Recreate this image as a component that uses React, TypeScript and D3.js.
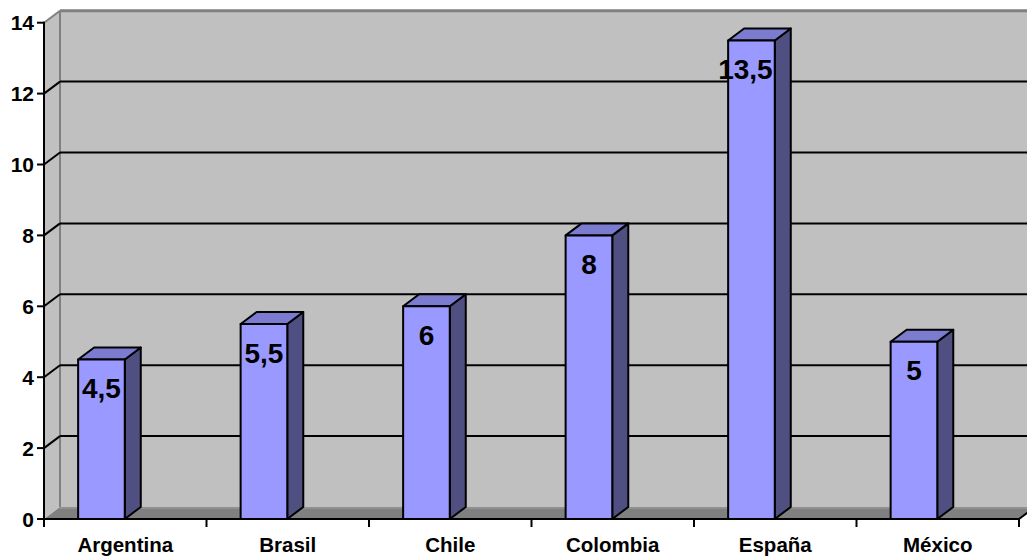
import React from "react";
import * as d3 from "d3";

// Chart data
const categories: string[] = ["Argentina", "Brasil", "Chile", "Colombia", "España", "México"];
const values: number[] = [4.5, 5.5, 6, 8, 13.5, 5];
const valueLabels: string[] = ["4,5", "5,5", "6", "8", "13,5", "5"];
const yTicks: number[] = [0, 2, 4, 6, 8, 10, 12, 14];

const W = 1027;
const H = 558;
const DX = 16; // depth offset of the 3D box
const DY = -12;
const FONT = "Arial, 'Liberation Sans', Helvetica, sans-serif";

export default function App() {
  const x = d3.scaleBand<string>().domain(categories).range([44, 1019]).padding(0);
  const y = d3.scaleLinear().domain([0, 14]).range([519, 22.7]);
  const bw = x.bandwidth();
  const left = 44;
  const right = 1019;
  const y0 = y(0);
  const yTop = y(14);

  const poly = (pts: [number, number][]) => pts.map((p) => p.join(",")).join(" ");

  return (
    <svg
      width={W}
      height={H}
      style={{ position: "absolute", left: 0, top: 0, background: "#ffffff" }}
      fontFamily={FONT}
    >
      {/* back wall */}
      <rect x={left + DX} y={yTop + DY} width={right - left} height={y0 - yTop} fill="#c0c0c0" />
      {/* side wall */}
      <polygon
        points={poly([
          [left, yTop],
          [left + DX, yTop + DY],
          [left + DX, y0 + DY],
          [left, y0],
        ])}
        fill="#c0c0c0"
      />
      {/* floor */}
      <polygon
        points={poly([
          [left, y0],
          [right, y0],
          [right + DX, y0 + DY],
          [left + DX, y0 + DY],
        ])}
        fill="#808080"
      />
      <line x1={left + DX} x2={right + DX} y1={y0 + DY + 1} y2={y0 + DY + 1} stroke="#969696" strokeWidth={1.5} />
      {/* wall edges */}
      <line x1={left + DX} x2={right + DX + 20} y1={yTop + DY} y2={yTop + DY} stroke="#808080" strokeWidth={3} />
      <line x1={left + DX} x2={left + DX} y1={yTop + DY} y2={y0 + DY} stroke="#808080" strokeWidth={2} />
      <line x1={left} x2={left + DX} y1={yTop} y2={yTop + DY} stroke="#808080" strokeWidth={2} />

      {/* gridlines */}
      {yTicks
        .filter((t) => t > 0 && t < 14)
        .map((t) => (
          <g key={"g" + t}>
            <line x1={left + DX} x2={right + DX + 20} y1={y(t) + DY} y2={y(t) + DY} stroke="#000" strokeWidth={2} />
            <line x1={left} x2={left + DX} y1={y(t)} y2={y(t) + DY} stroke="#000" strokeWidth={2} />
          </g>
        ))}

      {/* bars */}
      {categories.map((c, i) => {
        const x0 = (x(c) as number) + bw * 0.21;
        const x1 = x0 + bw * 0.287;
        const top = y(values[i]);
        return (
          <g key={c} stroke="#000" strokeWidth={2} strokeLinejoin="round">
            <polygon
              points={poly([
                [x1, top],
                [x1 + DX, top + DY],
                [x1 + DX, y0 + DY],
                [x1, y0],
              ])}
              fill="#4f4f82"
            />
            <polygon
              points={poly([
                [x0, top],
                [x0 + DX, top + DY],
                [x1 + DX, top + DY],
                [x1, top],
              ])}
              fill="#7b7bd0"
            />
            <rect x={x0} y={top} width={x1 - x0} height={y0 - top} fill="#9999ff" />
          </g>
        );
      })}

      {/* value labels */}
      {categories.map((c, i) => {
        const x0 = (x(c) as number) + bw * 0.21;
        const x1 = x0 + bw * 0.287;
        return (
          <text
            key={"v" + c}
            x={(x0 + x1) / 2 - (valueLabels[i].length > 3 ? 6 : 0)}
            y={y(values[i]) + 29}
            textAnchor="middle"
            dominantBaseline="central"
            fontSize={28}
            fontWeight="bold"
            fill="#000"
          >
            {valueLabels[i]}
          </text>
        );
      })}

      {/* y axis */}
      <line x1={left} x2={left} y1={yTop - 1} y2={y0 + 8} stroke="#000" strokeWidth={2} />
      {yTicks.map((t) => (
        <g key={"t" + t}>
          <line x1={left - 7} x2={left} y1={y(t)} y2={y(t)} stroke="#000" strokeWidth={2} />
          <text
            x={34}
            y={y(t)}
            textAnchor="end"
            dominantBaseline="central"
            fontSize={21}
            fontWeight="bold"
            fill="#000"
          >
            {t}
          </text>
        </g>
      ))}

      {/* x axis */}
      <line x1={left - 7} x2={right} y1={y0} y2={y0} stroke="#000" strokeWidth={2} />
      <line x1={right} x2={right + DX} y1={y0} y2={y0 + DY} stroke="#000" strokeWidth={2} />
      {[...categories.map((c) => x(c) as number), right].map((b, i) => (
        <line key={"xt" + i} x1={b} x2={b} y1={y0} y2={y0 + 8} stroke="#000" strokeWidth={2} />
      ))}
      {categories.map((c) => (
        <text
          key={"c" + c}
          x={(x(c) as number) + bw / 2}
          y={552}
          textAnchor="middle"
          fontSize={20.5}
          fontWeight="bold"
          fill="#000"
        >
          {c}
        </text>
      ))}
    </svg>
  );
}
